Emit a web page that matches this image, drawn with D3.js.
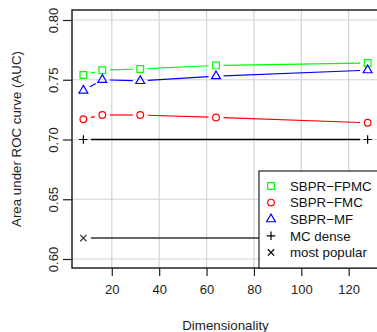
<!DOCTYPE html>
<html>
<head>
<meta charset="utf-8">
<script src="https://cdn.jsdelivr.net/npm/d3@7"></script>
<style>
  body { margin: 0; background: #fff; }
  svg { display: block; font-family: "Liberation Sans", Arial, sans-serif; }
</style>
</head>
<body>
<div class="chart-container"></div>
<script>
// values
const dims = [8, 16, 32, 64, 128];
const fpmc = [0.754, 0.758, 0.759, 0.762, 0.764];
const fmc = [0.717, 0.7205, 0.7205, 0.7185, 0.714];
const mf = [0.741, 0.750, 0.749, 0.753, 0.758];
const baselineDims = [8, 128];
const mcDense = [0.700, 0.700];
const mostPopular = [0.6175, 0.6175];
const xTicks = [20, 40, 60, 80, 100, 120];
const yTicks = [0.60, 0.65, 0.70, 0.75, 0.80];
const legendLabels = ["SBPR\u2212FPMC", "SBPR\u2212FMC", "SBPR\u2212MF", "MC dense", "most popular"];

const width = 377, height = 332;
const plot = { left: 72, right: 379, top: 10, bottom: 268 };

const svg = d3.select(".chart-container")
    .append("svg")
    .attr("width", width)
    .attr("height", height);

const xScale = d3.scaleLinear().domain([3.2, 132.8]).range([plot.left, plot.right]);
const yScale = d3.scaleLinear().domain([0.60, 0.80]).range([259, 20]);

const plusSym = d3.symbolCross2 || d3.symbolPlus;
const timesSym = d3.symbolTimes || d3.symbolX;

// grid
svg.append("g").selectAll("line").data(xTicks).join("line")
    .attr("x1", d => xScale(d)).attr("x2", d => xScale(d))
    .attr("y1", plot.top).attr("y2", plot.bottom)
    .attr("stroke", "#d3d3d3").attr("stroke-width", 1.2);
svg.append("g").selectAll("line").data(yTicks).join("line")
    .attr("x1", plot.left).attr("x2", plot.right)
    .attr("y1", d => yScale(d)).attr("y2", d => yScale(d))
    .attr("stroke", "#d3d3d3").attr("stroke-width", 1.2);

// type="b" style: segments with gaps around the points
const gap = 7.5;
function drawSeries(xs, ys, color, symbol, size, strokeW) {
    const pts = xs.map((x, i) => [xScale(x), yScale(ys[i])]);
    const segs = [];
    for (let i = 0; i < pts.length - 1; i++) {
        const [x0, y0] = pts[i], [x1, y1] = pts[i + 1];
        const len = Math.hypot(x1 - x0, y1 - y0);
        if (len <= 2 * gap) continue;
        const ux = (x1 - x0) / len, uy = (y1 - y0) / len;
        segs.push([x0 + ux * gap, y0 + uy * gap, x1 - ux * gap, y1 - uy * gap]);
    }
    const g = svg.append("g");
    g.selectAll("line").data(segs).join("line")
        .attr("x1", d => d[0]).attr("y1", d => d[1])
        .attr("x2", d => d[2]).attr("y2", d => d[3])
        .attr("stroke", color).attr("stroke-width", strokeW);
    g.selectAll("path").data(pts).join("path")
        .attr("transform", d => `translate(${d[0]},${d[1]})`)
        .attr("d", d3.symbol().type(symbol).size(size))
        .attr("fill", "none")
        .attr("stroke", color)
        .attr("stroke-width", 1.2);
}

drawSeries(dims, fpmc, "#00ff00", d3.symbolSquare, 45, 1.2);
drawSeries(dims, fmc, "#ff0000", d3.symbolCircle, 35, 1.2);
drawSeries(dims, mf, "#0000ff", d3.symbolTriangle, 34, 1.2);
drawSeries(baselineDims, mcDense, "#000000", plusSym, 26, 1.5);
drawSeries(baselineDims, mostPopular, "#333333", timesSym, 28, 1.5);

// axes
const xAxis = d3.axisBottom(xScale).tickValues(xTicks).tickSize(8).tickPadding(9);
const yAxis = d3.axisLeft(yScale).tickValues(yTicks).tickSize(9).tickFormat(d3.format(".2f"));

const gx = svg.append("g").attr("transform", `translate(0,${plot.bottom})`).call(xAxis);
gx.select(".domain").remove();
gx.selectAll("line").attr("stroke", "#222").attr("stroke-width", 1.2);
gx.selectAll("text").attr("font-size", 13).attr("fill", "#222");

const gy = svg.append("g").attr("transform", `translate(${plot.left},0)`).call(yAxis);
gy.select(".domain").remove();
gy.selectAll("line").attr("stroke", "#222").attr("stroke-width", 1.2);
gy.selectAll("text")
    .attr("font-size", 13).attr("fill", "#222")
    .attr("text-anchor", "middle")
    .attr("dy", null).attr("x", null)
    .attr("transform", "translate(-19,0) rotate(-90)")
    .attr("dominant-baseline", "central");

// frame
svg.append("rect")
    .attr("x", plot.left).attr("y", plot.top)
    .attr("width", plot.right - plot.left).attr("height", plot.bottom - plot.top)
    .attr("fill", "none").attr("stroke", "#222").attr("stroke-width", 1.5);

// titles
svg.append("text")
    .attr("x", (plot.left + plot.right) / 2).attr("y", 330)
    .attr("text-anchor", "middle").attr("font-size", 13.3).attr("fill", "#222")
    .text("Dimensionality");
svg.append("text")
    .attr("transform", `translate(16,${(plot.top + plot.bottom) / 2}) rotate(-90)`)
    .attr("text-anchor", "middle").attr("dominant-baseline", "central")
    .attr("font-size", 13.3).attr("fill", "#222")
    .text("Area under ROC curve (AUC)");

// legend
const legendColors = ["#00ff00", "#ff0000", "#0000ff", "#000000", "#000000"];
const legendSymbols = [d3.symbolSquare, d3.symbolCircle, d3.symbolTriangle, plusSym, timesSym];
const legendSizes = [45, 35, 34, 26, 28];
const legend = svg.append("g");
legend.append("rect")
    .attr("x", 259).attr("y", 171)
    .attr("width", 140).attr("height", plot.bottom - 171)
    .attr("fill", "#fff").attr("stroke", "#222").attr("stroke-width", 1.2);
const rows = legend.selectAll("g.row").data(legendLabels).join("g")
    .attr("class", "row")
    .attr("transform", (d, i) => `translate(271,${186 + i * 16.6})`);
rows.append("path")
    .attr("d", (d, i) => d3.symbol().type(legendSymbols[i]).size(legendSizes[i])())
    .attr("fill", "none")
    .attr("stroke", (d, i) => legendColors[i])
    .attr("stroke-width", 1.2);
rows.append("text")
    .attr("x", 19).attr("dy", "0.36em")
    .attr("font-size", 13.3).attr("fill", "#111")
    .text(d => d);
</script>
</body>
</html>
